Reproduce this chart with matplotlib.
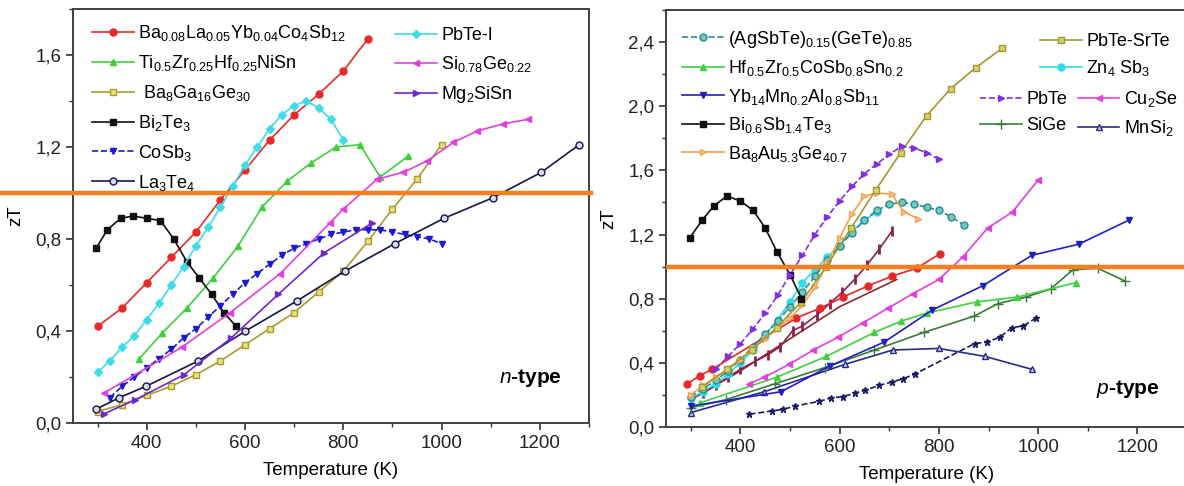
import numpy as np
import matplotlib.pyplot as plt
from matplotlib.ticker import MultipleLocator, FuncFormatter

plt.rcParams['font.family'] = ['Liberation Sans', 'DejaVu Sans']
plt.rcParams['mathtext.fontset'] = 'custom'
plt.rcParams['mathtext.rm'] = 'Liberation Sans'
plt.rcParams['mathtext.it'] = 'Liberation Sans:italic'
plt.rcParams['mathtext.bf'] = 'Liberation Sans:bold'
plt.rcParams['mathtext.default'] = 'regular'

ZT_TARGET = 1.0

# ---------------- n-type ----------------
T_BaLaYb = [300, 350, 400, 450, 500, 550, 600, 650, 700, 750, 800, 850]
zT_BaLaYb = [0.42, 0.50, 0.61, 0.72, 0.83, 0.97, 1.10, 1.23, 1.34, 1.43, 1.53, 1.67]

T_TiZrHf = [385, 431, 482, 535, 586, 635, 685, 734, 785, 834, 875, 932]
zT_TiZrHf = [0.28, 0.39, 0.50, 0.63, 0.77, 0.94, 1.05, 1.13, 1.20, 1.21, 1.07, 1.16]

T_BaGaGe = [300, 350, 400, 450, 500, 550, 600, 650, 700, 750, 800, 850, 900, 950, 1000]
zT_BaGaGe = [0.05, 0.08, 0.12, 0.16, 0.21, 0.27, 0.34, 0.41, 0.48, 0.57, 0.66, 0.79, 0.93, 1.06, 1.21]

T_Bi2Te3 = [297, 320, 347, 372, 400, 428, 455, 482, 507, 532, 557, 582]
zT_Bi2Te3 = [0.76, 0.84, 0.89, 0.90, 0.89, 0.88, 0.80, 0.70, 0.63, 0.56, 0.48, 0.42]

T_CoSb3 = [325, 350, 375, 400, 425, 450, 475, 500, 525, 550, 575, 600, 625, 650,
           675, 700, 725, 750, 775, 800, 825, 850, 875, 900, 925, 950, 975, 1000]
zT_CoSb3 = [0.11, 0.16, 0.20, 0.24, 0.28, 0.32, 0.37, 0.41, 0.46, 0.51, 0.56, 0.61, 0.65, 0.69,
            0.73, 0.76, 0.78, 0.80, 0.82, 0.83, 0.84, 0.84, 0.84, 0.83, 0.82, 0.81, 0.80, 0.78]

T_La3Te4 = [297, 344, 399, 505, 601, 705, 803, 905, 1005, 1105, 1203, 1280]
zT_La3Te4 = [0.06, 0.11, 0.16, 0.27, 0.40, 0.53, 0.66, 0.78, 0.89, 0.98, 1.09, 1.21]

T_PbTeI = [300, 325, 350, 375, 400, 425, 450, 475, 500, 525, 550, 575, 600, 625,
           650, 675, 700, 725, 750, 775, 800]
zT_PbTeI = [0.22, 0.27, 0.33, 0.38, 0.45, 0.52, 0.60, 0.68, 0.77, 0.85, 0.94, 1.03, 1.12, 1.20,
            1.28, 1.34, 1.38, 1.40, 1.37, 1.32, 1.23]

T_SiGe_n = [313, 472, 570, 672, 773, 800, 869, 922, 971, 1024, 1073, 1124, 1175]
zT_SiGe_n = [0.13, 0.33, 0.48, 0.65, 0.87, 0.93, 1.06, 1.09, 1.14, 1.22, 1.27, 1.30, 1.32]

T_Mg2SiSn = [313, 376, 476, 572, 668, 761, 859]
zT_Mg2SiSn = [0.04, 0.10, 0.21, 0.37, 0.56, 0.74, 0.87]

# ---------------- p-type ----------------
T_AgSbTe = [300, 325, 350, 375, 400, 425, 450, 475, 500, 525, 550, 575, 600, 625,
            650, 675, 700, 725, 750, 775, 800, 825, 850]
zT_AgSbTe = [0.19, 0.24, 0.29, 0.35, 0.42, 0.50, 0.58, 0.66, 0.75, 0.84, 0.94, 1.04, 1.13, 1.21,
             1.29, 1.35, 1.39, 1.40, 1.39, 1.37, 1.35, 1.31, 1.26]

T_HfZrCoSb = [318, 473, 573, 670, 724, 775, 876, 958, 1076]
zT_HfZrCoSb = [0.15, 0.31, 0.44, 0.59, 0.66, 0.71, 0.78, 0.81, 0.90]

T_Yb14 = [300, 482, 580, 690, 787, 888, 987, 1082, 1183]
zT_Yb14 = [0.13, 0.22, 0.38, 0.53, 0.73, 0.88, 1.07, 1.14, 1.29]

T_BiSbTe = [298, 323, 347, 373, 399, 426, 450, 474, 500, 523]
zT_BiSbTe = [1.18, 1.29, 1.38, 1.44, 1.41, 1.35, 1.24, 1.09, 0.95, 0.80]

T_BaAuGe = [300, 325, 350, 375, 400, 425, 450, 475, 500, 525, 550, 575, 600, 625,
            650, 675, 705, 730, 757]
zT_BaAuGe = [0.20, 0.26, 0.31, 0.36, 0.42, 0.49, 0.55, 0.62, 0.68, 0.76, 0.87, 1.02, 1.18, 1.33,
             1.44, 1.46, 1.45, 1.34, 1.30]

T_PbTeSrTe = [323, 373, 423, 473, 523, 573, 623, 673, 723, 775, 824, 874, 927]
zT_PbTeSrTe = [0.25, 0.36, 0.48, 0.62, 0.78, 1.00, 1.24, 1.48, 1.71, 1.94, 2.11, 2.24, 2.36]

T_Zn4Sb3 = [300, 325, 350, 375, 400, 425, 450, 475, 500, 525, 550, 575, 600, 625, 650, 675]
zT_Zn4Sb3 = [0.18, 0.22, 0.27, 0.33, 0.40, 0.48, 0.57, 0.67, 0.78, 0.90, 0.98, 1.06, 1.13, 1.22,
             1.29, 1.34]

T_PbTe = [350, 375, 400, 425, 450, 475, 500, 525, 550, 575, 600, 625, 650, 675, 700,
          725, 750, 775, 800]
zT_PbTe = [0.36, 0.44, 0.52, 0.61, 0.71, 0.82, 0.95, 1.07, 1.20, 1.31, 1.41, 1.50, 1.58, 1.64,
           1.70, 1.75, 1.74, 1.71, 1.67]

T_Cu2Se = [418, 448, 498, 547, 597, 647, 697, 747, 800, 848, 898, 948, 1000]
zT_Cu2Se = [0.27, 0.31, 0.39, 0.48, 0.56, 0.65, 0.74, 0.83, 0.92, 1.06, 1.24, 1.34, 1.54]

T_SiGe_p = [300, 370, 470, 570, 670, 770, 870, 920, 975, 1025, 1070, 1120, 1175]
zT_SiGe_p = [0.12, 0.17, 0.27, 0.37, 0.48, 0.59, 0.69, 0.77, 0.81, 0.86, 0.98, 0.99, 0.91]

T_MnSi2 = [300, 448, 610, 707, 800, 893, 987]
zT_MnSi2 = [0.09, 0.22, 0.39, 0.48, 0.49, 0.44, 0.36]

# unlabelled p-type curves
T_red = [293, 318, 343, 513, 560, 607, 657, 705, 755, 802]
zT_red = [0.27, 0.32, 0.36, 0.68, 0.74, 0.81, 0.88, 0.94, 0.99, 1.08]

T_maroon = [300, 325, 350, 375, 400, 430, 455, 480, 505, 525, 555, 580, 605, 630, 655, 680, 705]
zT_maroon = [0.18, 0.21, 0.26, 0.31, 0.36, 0.41, 0.45, 0.50, 0.60, 0.63, 0.70, 0.77, 0.84, 0.92,
             1.01, 1.11, 1.22]

T_brown = [300, 400, 500, 600, 715]
zT_brown = [0.17, 0.35, 0.55, 0.75, 0.92]

T_star = [418, 464, 486, 509, 559, 582, 607, 630, 652, 680, 705, 727, 751, 872, 896, 923, 947, 970, 996]
zT_star = [0.08, 0.10, 0.11, 0.13, 0.16, 0.18, 0.19, 0.21, 0.23, 0.26, 0.28, 0.30, 0.33, 0.52,
           0.53, 0.56, 0.62, 0.63, 0.68]


def comma(v, pos):
    return f"{v:.1f}".replace('.', ',')


def style_axes(ax, ymax):
    ax.set_xlim(250, 1300)
    ax.set_ylim(0, ymax)
    ax.xaxis.set_major_locator(MultipleLocator(200))
    ax.xaxis.set_minor_locator(MultipleLocator(100))
    ax.yaxis.set_major_locator(MultipleLocator(0.4))
    ax.yaxis.set_minor_locator(MultipleLocator(0.2))
    ax.yaxis.set_major_formatter(FuncFormatter(comma))
    ax.tick_params(which='major', direction='out', length=5, width=1.2, labelsize=13.5, colors='#333333')
    ax.tick_params(which='minor', direction='out', length=3, width=1.0, colors='#333333')
    ax.tick_params(labelcolor='#222222')
    for s in ax.spines.values():
        s.set_linewidth(1.4)
        s.set_color('#404040')
    ax.set_xlabel("Temperature (K)", fontsize=13.5, labelpad=7)
    ax.set_ylabel("zT", fontsize=13.5, labelpad=8)


fig = plt.figure(figsize=(11.84, 4.86), dpi=100)
ax1 = fig.add_axes([73 / 1184, 63 / 486, 516 / 1184, 414 / 486])
ax2 = fig.add_axes([666 / 1184, 59 / 486, 521 / 1184, 417 / 486])

lw = 1.2
ms = 5

# n-type panel
l_BaLaYb, = ax1.plot(T_BaLaYb, zT_BaLaYb, '-o', color='#e8282a', lw=lw, ms=ms)
l_TiZrHf, = ax1.plot(T_TiZrHf, zT_TiZrHf, '-^', color='#3ccf3c', lw=lw, ms=ms)
l_BaGaGe, = ax1.plot(T_BaGaGe, zT_BaGaGe, '-s', color='#a89d2c', mfc='#e8e080', lw=lw, ms=4)
l_Bi2Te3, = ax1.plot(T_Bi2Te3, zT_Bi2Te3, '-s', color='#111111', lw=lw, ms=ms)
l_CoSb3, = ax1.plot(T_CoSb3, zT_CoSb3, '--v', color='#1a1ad0', lw=lw, ms=ms)
l_La3Te4, = ax1.plot(T_La3Te4, zT_La3Te4, '-o', color='#15154a', mfc='#d8d8f0', lw=lw, ms=ms)
l_PbTeI, = ax1.plot(T_PbTeI, zT_PbTeI, '-D', color='#40dce6', lw=lw, ms=4.5)
l_SiGe_n, = ax1.plot(T_SiGe_n, zT_SiGe_n, '-<', color='#e040dc', lw=lw, ms=ms)
l_Mg2SiSn, = ax1.plot(T_Mg2SiSn, zT_Mg2SiSn, '->', color='#7028c8', lw=lw, ms=ms)

ax1.plot([-73 / 516, 518 / 516], [ZT_TARGET, ZT_TARGET], color='#f57e20', lw=3.2,
         transform=ax1.get_yaxis_transform(), clip_on=False, zorder=5)

leg_kw = dict(frameon=False, fontsize=13, handlelength=2.3, handletextpad=0.25,
              borderaxespad=0, borderpad=0, loc='upper left')
leg1 = ax1.legend([l_BaLaYb, l_TiZrHf, l_BaGaGe, l_Bi2Te3, l_CoSb3, l_La3Te4],
                  ["Ba$_{0.08}$La$_{0.05}$Yb$_{0.04}$Co$_4$Sb$_{12}$",
                   "Ti$_{0.5}$Zr$_{0.25}$Hf$_{0.25}$NiSn",
                   " Ba$_8$Ga$_{16}$Ge$_{30}$",
                   "Bi$_2$Te$_3$", "CoSb$_3$", "La$_3$Te$_4$"],
                  bbox_to_anchor=(0.037, 0.966), labelspacing=0.55, **leg_kw)
ax1.add_artist(leg1)
ax1.legend([l_PbTeI, l_SiGe_n, l_Mg2SiSn],
           ["PbTe-I", "Si$_{0.78}$Ge$_{0.22}$", "Mg$_2$SiSn"],
           bbox_to_anchor=(0.624, 0.956), labelspacing=0.55, **leg_kw)

ax1.text(0.886, 0.109, r"$\mathbf{\mathit{n}}$-type", transform=ax1.transAxes,
         ha='center', va='center', fontsize=15, fontweight='bold')
style_axes(ax1, 1.8)

# p-type panel
ax2.plot(T_star, zT_star, '--*', color='#1a1a66', lw=lw, ms=5)
ax2.plot(T_brown, zT_brown, '-', color='#8a2a2a', lw=lw)
ax2.plot(T_maroon, zT_maroon, '-|', color='#8a2050', lw=lw, ms=7, mew=2)
ax2.plot(T_red, zT_red, '-o', color='#e82828', lw=lw, ms=ms)
l_MnSi2, = ax2.plot(T_MnSi2, zT_MnSi2, '-^', color='#2a2a88', mfc='#c8c8f0', lw=lw, ms=4)
l_SiGe_p, = ax2.plot(T_SiGe_p, zT_SiGe_p, '-+', color='#3a7a3a', lw=lw, ms=7)
l_HfZrCoSb, = ax2.plot(T_HfZrCoSb, zT_HfZrCoSb, '-^', color='#40d040', lw=lw, ms=ms)
l_Yb14, = ax2.plot(T_Yb14, zT_Yb14, '-v', color='#2020c0', lw=lw, ms=ms)
l_Cu2Se, = ax2.plot(T_Cu2Se, zT_Cu2Se, '-<', color='#e040dc', lw=lw, ms=ms)
l_Zn4Sb3, = ax2.plot(T_Zn4Sb3, zT_Zn4Sb3, '-o', color='#30dce6', lw=lw, ms=ms)
l_AgSbTe, = ax2.plot(T_AgSbTe, zT_AgSbTe, '--o', color='#2a8c8c', mfc='#70c8c0', lw=lw, ms=ms)
l_BaAuGe, = ax2.plot(T_BaAuGe, zT_BaAuGe, '->', color='#f0a050', mfc='#f8c890', lw=lw, ms=ms)
l_PbTeSrTe, = ax2.plot(T_PbTeSrTe, zT_PbTeSrTe, '-s', color='#a09a30', mfc='#d8d070', lw=lw, ms=4)
l_BiSbTe, = ax2.plot(T_BiSbTe, zT_BiSbTe, '-s', color='#111111', lw=lw, ms=ms)
l_PbTe, = ax2.plot(T_PbTe, zT_PbTe, '-->', color='#8030e0', lw=lw, ms=ms)

ax2.axhline(ZT_TARGET, color='#f57e20', lw=3.2, zorder=5)

leg3 = ax2.legend([l_AgSbTe, l_HfZrCoSb, l_Yb14, l_BiSbTe, l_BaAuGe],
                  ["(AgSbTe)$_{0.15}$(GeTe)$_{0.85}$",
                   "Hf$_{0.5}$Zr$_{0.5}$CoSb$_{0.8}$Sn$_{0.2}$",
                   "Yb$_{14}$Mn$_{0.2}$Al$_{0.8}$Sb$_{11}$",
                   "Bi$_{0.6}$Sb$_{1.4}$Te$_3$",
                   "Ba$_8$Au$_{5.3}$Ge$_{40.7}$"],
                  bbox_to_anchor=(0.031, 0.955), labelspacing=0.47, **leg_kw)
ax2.add_artist(leg3)
leg4 = ax2.legend([l_PbTeSrTe, l_Zn4Sb3], ["PbTe-SrTe", "Zn$_4$ Sb$_3$"],
                  bbox_to_anchor=(0.718, 0.945), labelspacing=0.45, **leg_kw)
ax2.add_artist(leg4)
ax2.legend([l_PbTe, l_SiGe_p, l_Cu2Se, l_MnSi2], ["PbTe", "SiGe", "Cu$_2$Se", "MnSi$_2$"],
           bbox_to_anchor=(0.603, 0.81), labelspacing=0.5, ncol=2, columnspacing=0.6, **leg_kw)

ax2.text(0.887, 0.091, r"$\mathbf{\mathit{p}}$-type", transform=ax2.transAxes,
         ha='center', va='center', fontsize=15, fontweight='bold')
style_axes(ax2, 2.6)

fig.savefig("out.png", dpi=100)
